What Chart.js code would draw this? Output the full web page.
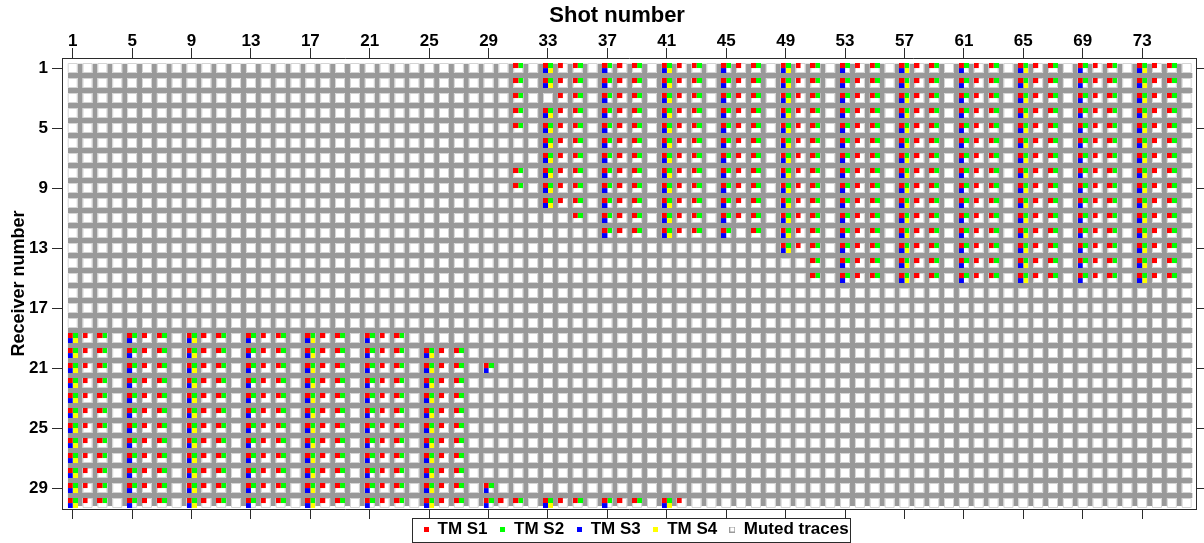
<!DOCTYPE html>
<html><head><meta charset="utf-8">
<script src="https://cdn.jsdelivr.net/npm/chart.js@4"></script>
<style>html,body{margin:0;padding:0;background:#fff}canvas{display:block}</style>
</head><body>
<canvas id="c" width="1204" height="543"></canvas>
<script>
// ---- data ----
const shots = [1,2,3,4,5,6,7,8,9,10,11,12,13,14,15,16,17,18,19,20,21,22,23,24,25,26,27,28,29,30,31,32,33,34,35,36,37,38,
  39,40,41,42,43,44,45,46,47,48,49,50,51,52,53,54,55,56,57,58,59,60,61,62,63,64,65,66,67,68,69,70,71,72,73,74,75,76];
const receivers = [1,2,3,4,5,6,7,8,9,10,11,12,13,14,15,16,17,18,19,20,21,22,23,24,25,26,27,28,29,30];
const shotTicks = [1,5,9,13,17,21,25,29,33,37,41,45,49,53,57,61,65,69,73];
const receiverTicks = [1,5,9,13,17,21,25,29];
const seriesNames = ['TM S1','TM S2','TM S3','TM S4'];
const mutedName = 'Muted traces';
// one row per receiver, one hex digit per shot: bit 1 = TM S1, 2 = TM S2, 4 = TM S3, 8 = TM S4
const cellCodes = [
  "0000 0000 0000 0000 0000 0000 0000 0030 F130 7130 F130 7130 F130 7130 F130 7130 F130 7130 F130",
  "0000 0000 0000 0000 0000 0000 0000 0030 F130 7130 F130 7130 F130 7130 F130 7130 F130 7130 F130",
  "0000 0000 0000 0000 0000 0000 0000 0030 0130 7130 F130 7130 F130 7130 F130 7130 F130 7130 F130",
  "0000 0000 0000 0000 0000 0000 0000 0030 F130 7130 F130 7130 F130 7130 F130 7130 F130 7130 F130",
  "0000 0000 0000 0000 0000 0000 0000 0030 F130 7130 F130 7130 F130 7130 F130 7130 F130 7130 F130",
  "0000 0000 0000 0000 0000 0000 0000 0000 F130 7130 F130 7130 F130 7130 F130 7130 F130 7130 F130",
  "0000 0000 0000 0000 0000 0000 0000 0000 F130 7130 F130 7130 F130 7130 F130 7130 F130 7130 F130",
  "0000 0000 0000 0000 0000 0000 0000 0030 F130 7130 F130 7130 F130 7130 F130 7130 F130 7130 F130",
  "0000 0000 0000 0000 0000 0000 0000 0030 F130 7130 F130 7130 F130 7130 F130 7130 F130 7130 F130",
  "0000 0000 0000 0000 0000 0000 0000 0000 F130 7130 F130 7130 F130 7130 F130 7130 F130 7130 F130",
  "0000 0000 0000 0000 0000 0000 0000 0000 0030 7130 F130 7130 F130 7130 F130 7130 F130 7130 F130",
  "0000 0000 0000 0000 0000 0000 0000 0000 0000 7130 F130 7030 F130 7130 F130 7130 F130 7130 F130",
  "0000 0000 0000 0000 0000 0000 0000 0000 0000 0000 0000 0000 F130 7130 F130 7130 F130 7130 F130",
  "0000 0000 0000 0000 0000 0000 0000 0000 0000 0000 0000 0000 0030 7130 F130 7130 F130 7130 F130",
  "0000 0000 0000 0000 0000 0000 0000 0000 0000 0000 0000 0000 0030 7130 F130 7130 F130 7130 F130",
  "0000 0000 0000 0000 0000 0000 0000 0000 0000 0000 0000 0000 0000 0000 0000 0000 0000 0000 0000",
  "0000 0000 0000 0000 0000 0000 0000 0000 0000 0000 0000 0000 0000 0000 0000 0000 0000 0000 0000",
  "0000 0000 0000 0000 0000 0000 0000 0000 0000 0000 0000 0000 0000 0000 0000 0000 0000 0000 0000",
  "F130 7130 F130 7130 F130 7130 0000 0000 0000 0000 0000 0000 0000 0000 0000 0000 0000 0000 0000",
  "F130 7130 F130 7130 F130 7130 F130 0000 0000 0000 0000 0000 0000 0000 0000 0000 0000 0000 0000",
  "F130 7130 F130 7130 F130 7130 F130 7000 0000 0000 0000 0000 0000 0000 0000 0000 0000 0000 0000",
  "F130 7130 F130 7130 F130 7130 F130 0000 0000 0000 0000 0000 0000 0000 0000 0000 0000 0000 0000",
  "F130 7130 F130 7130 F130 7130 F130 0000 0000 0000 0000 0000 0000 0000 0000 0000 0000 0000 0000",
  "F130 7130 F130 7130 F130 7130 F130 0000 0000 0000 0000 0000 0000 0000 0000 0000 0000 0000 0000",
  "F130 7130 F130 7130 F130 7130 F130 0000 0000 0000 0000 0000 0000 0000 0000 0000 0000 0000 0000",
  "F130 7130 F130 7130 F130 7130 F130 0000 0000 0000 0000 0000 0000 0000 0000 0000 0000 0000 0000",
  "F130 7130 F130 7130 F130 7130 F130 0000 0000 0000 0000 0000 0000 0000 0000 0000 0000 0000 0000",
  "F130 7130 F130 7130 F130 7130 F130 0000 0000 0000 0000 0000 0000 0000 0000 0000 0000 0000 0000",
  "F130 7130 F130 7130 F130 7130 F130 7000 0000 0000 0000 0000 0000 0000 0000 0000 0000 0000 0000",
  "F130 7130 F130 7130 F130 7130 F130 7130 F130 7130 F100 0000 0000 0000 0000 0000 0000 0000 0000"
];

// ---- styles ----
const seriesColors = ['#ff0000','#00ff00','#0000ff','#ffff00'];
const FONT = '"Liberation Sans", Arial, Helvetica, sans-serif';
const frameColor = '#2b2b2b';

// ---- build datasets ----
const rows = cellCodes.map(r => r.replace(/\s+/g, ''));
const seriesData = seriesNames.map(() => []);
const mutedData = [];
rows.forEach((row, ri) => {
  shots.forEach((s, si) => {
    mutedData.push({x: s, y: receivers[ri]});
    const v = parseInt(row[si], 16) || 0;
    seriesNames.forEach((_, k) => { if (v & (1 << k)) seriesData[k].push({x: s, y: receivers[ri]}); });
  });
});

// separator bars between cells (between neighbouring shots / receivers)
const barData = [];
const sx0 = shots[0] - 0.32, sx1 = shots[shots.length - 1] + 0.38;
const ry0 = receivers[0] - 0.28, ry1 = receivers[receivers.length - 1] + 0.2;
for (let i = 0; i < receivers.length - 1; i++) {
  const y = (receivers[i] + receivers[i + 1]) / 2;
  barData.push({x: sx0, y}, {x: sx1, y}, {x: NaN, y: NaN});
}
for (let i = 0; i < shots.length - 1; i++) {
  const x = (shots[i] + shots[i + 1]) / 2;
  barData.push({x, y: ry0}, {x, y: ry1}, {x: NaN, y: NaN});
}

function quadImage(k) {
  const c = document.createElement('canvas'); c.width = 10; c.height = 10;
  const g = c.getContext('2d'); g.fillStyle = seriesColors[k];
  g.fillRect((k % 2) * 5, Math.floor(k / 2) * 5, 5, 5);
  return c;
}
function legendSquare(color) {
  const c = document.createElement('canvas'); c.width = 5; c.height = 5;
  const g = c.getContext('2d'); g.fillStyle = color; g.fillRect(0, 0, 5, 5);
  return c;
}
function legendHollow() {
  const c = document.createElement('canvas'); c.width = 6; c.height = 6;
  const g = c.getContext('2d'); g.strokeStyle = '#9a9a9a'; g.lineWidth = 1; g.strokeRect(0.5, 0.5, 5, 5);
  return c;
}
const legendImgs = seriesColors.map(legendSquare);
const mutedImg = legendHollow();

const datasets = seriesNames.map((name, k) => ({
  label: name, data: seriesData[k], pointStyle: quadImage(k), pointRadius: 5, order: 0
}));
datasets.push({
  label: mutedName, data: mutedData, pointStyle: 'rect', pointRadius: 6.36,
  pointBorderColor: '#d4d4d4', pointBorderWidth: 1, pointBackgroundColor: 'rgba(0,0,0,0)', order: 1
});
datasets.push({
  label: '_separators', data: barData, showLine: true, spanGaps: false, borderColor: '#999999',
  borderWidth: 5, borderCapStyle: 'butt', pointRadius: 0, order: 2
});

const legendShift = 6.5;
const legendBox = {
  id: 'legendBox',
  afterLayout(chart) {
    const lg = chart.legend;
    if (lg) { lg.left += legendShift; lg.right += legendShift; }
  },
  afterDraw(chart) {
    const hb = chart.legend && chart.legend.legendHitBoxes;
    if (!hb || !hb.length) return;
    const ctx = chart.ctx;
    const l = Math.min(...hb.map(h => h.left)) - 11;
    const r = Math.max(...hb.map(h => h.left + h.width)) + 1;
    const cy = hb[0].top + hb[0].height / 2;
    ctx.save(); ctx.strokeStyle = frameColor; ctx.lineWidth = 1;
    ctx.strokeRect(Math.round(l) + 0.5, Math.round(cy - 12) + 0.5, Math.round(r - l), 24);
    ctx.restore();
  }
};

const tickFont = {family: FONT, size: 17, weight: 'bold'};
const xTitleFont = {family: FONT, size: 22, weight: 'bold'};
const yTitleFont = {family: FONT, size: 18, weight: 'bold'};
const setShotTicks = a => { a.ticks = shotTicks.map(v => ({value: v})); };
const setRecTicks = a => { a.ticks = receiverTicks.map(v => ({value: v})); };
const xMin = 0.28, xMax = 76.67, yMin = 0.333, yMax = 30.4;
const gridOpt = {drawOnChartArea: false, drawTicks: true, tickLength: 10, color: frameColor, tickColor: frameColor};
const borderOpt = {display: true, color: frameColor, width: 1};

new Chart(document.getElementById('c'), {
  type: 'scatter',
  data: {datasets},
  options: {
    responsive: false, animation: false, devicePixelRatio: 1, events: [],
    layout: {padding: 0},
    plugins: {
      tooltip: {enabled: false},
      legend: {
        position: 'bottom', fullSize: false, maxHeight: 34,
        labels: {
          usePointStyle: true, pointStyleWidth: 6, padding: 12, color: '#000',
          font: {family: FONT, size: 17, weight: 'bold'},
          generateLabels: () => seriesNames.map((t, k) => ({
            text: t, pointStyle: legendImgs[k], fillStyle: seriesColors[k], strokeStyle: seriesColors[k],
            lineWidth: 0, hidden: false, datasetIndex: k, fontColor: '#000'
          })).concat([{text: mutedName, pointStyle: mutedImg, fillStyle: '#fff', strokeStyle: '#999',
            lineWidth: 0, hidden: false, datasetIndex: 4, fontColor: '#000'}])
        }
      }
    },
    scales: {
      x: {
        type: 'linear', position: 'top', min: xMin, max: xMax,
        afterBuildTicks: setShotTicks, afterFit: a => { a.height = 58; },
        ticks: {font: tickFont, color: '#000', padding: -4, maxRotation: 0, autoSkip: false},
        grid: gridOpt, border: borderOpt,
        title: {display: true, text: 'Shot number    ', font: xTitleFont, color: '#000', padding: {top: 3, bottom: 0}}
      },
      x2: {
        type: 'linear', axis: 'x', position: 'bottom', min: xMin, max: xMax,
        afterBuildTicks: setShotTicks, afterFit: a => { a.height = 0; },
        ticks: {display: false}, grid: gridOpt, border: borderOpt
      },
      y: {
        type: 'linear', position: 'left', reverse: true, min: yMin, max: yMax,
        afterBuildTicks: setRecTicks, afterFit: a => { a.width = 62; },
        ticks: {font: tickFont, color: '#000', padding: 4, autoSkip: false},
        grid: gridOpt, border: borderOpt,
        title: {display: true, text: 'Receiver number', font: yTitleFont, color: '#000', padding: {top: 8, bottom: 0}}
      },
      y2: {
        type: 'linear', axis: 'y', position: 'right', reverse: true, min: yMin, max: yMax,
        afterBuildTicks: setRecTicks, afterFit: a => { a.width = 6; },
        ticks: {display: false}, grid: gridOpt, border: borderOpt
      }
    }
  },
  plugins: [legendBox]
});
</script>
</body></html>
